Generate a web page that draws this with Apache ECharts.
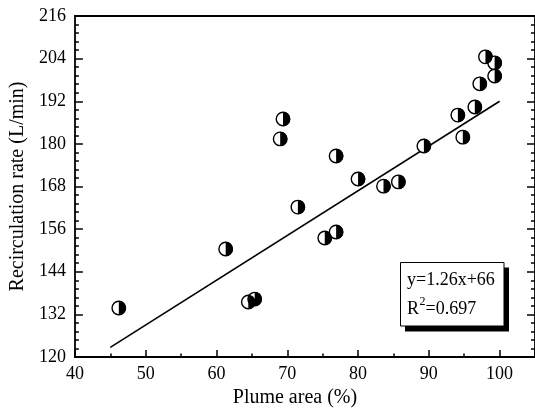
<!DOCTYPE html>
<html>
<head>
<meta charset="utf-8">
<script src="https://cdn.jsdelivr.net/npm/echarts@6/dist/echarts.min.js"></script>
<style>
html,body{margin:0;padding:0;background:#fff;}
#chart{width:535px;height:413px;}
</style>
</head>
<body>
<div id="chart"></div>
<script>
// Data
const plumeArea = [46.2, 61.3, 64.5, 65.4, 69.0, 69.4, 71.5, 75.3, 76.9, 76.9, 80.0, 83.6, 85.7, 89.3, 94.1, 94.8, 96.5, 97.2, 98.0, 99.3, 99.3];
const recircRate = [133.8, 150.4, 135.5, 136.3, 181.4, 187.0, 162.2, 153.5, 155.2, 176.6, 170.1, 168.1, 169.3, 179.4, 188.1, 181.9, 190.4, 196.9, 204.5, 202.8, 199.1];
const fitX = [45, 100];
const fitY = [122.7, 192.0];
const eqText = 'y=1.26x+66';
const r2Value = '=0.697';
const xTicks = {min: 40, max: 105, major: 10, minor: 5};
const yTicks = {min: 120, max: 216, major: 12};

const FONT = 'Liberation Serif';
const points = plumeArea.map((x, i) => [x, recircRate[i]]);
const fitLine = fitX.map((x, i) => [x, fitY[i]]);

const chart = echarts.init(document.getElementById('chart'), null, {renderer: 'canvas'});
const lineCol = '#000';
const axisW = 1.8;

chart.setOption({
  animation: false,
  backgroundColor: '#fff',
  grid: {left: 73, top: 16, width: 464, height: 341, containLabel: false},
  xAxis: [
    {
      type: 'value', min: xTicks.min, max: xTicks.max, interval: xTicks.minor, position: 'bottom',
      axisLine: {show: true, lineStyle: {color: lineCol, width: axisW}},
      axisTick: {show: true, inside: true, length: 3.5, lineStyle: {color: lineCol, width: 1.5}},
      axisLabel: {
        color: '#000', fontFamily: FONT, fontSize: 18, margin: 8, showMaxLabel: false,
        formatter: v => (v % xTicks.major === 0 ? String(v) : '')
      },
      splitLine: {show: false},
      name: 'Plume area (%)', nameLocation: 'middle', nameGap: 28,
      nameTextStyle: {color: '#000', fontFamily: FONT, fontSize: 20, padding: [0, 20, 0, 0]}
    },
    {
      type: 'value', min: xTicks.min, max: xTicks.max, interval: xTicks.major, position: 'bottom',
      axisLine: {show: false},
      axisTick: {show: true, inside: true, length: 7, lineStyle: {color: lineCol, width: 1.5}},
      axisLabel: {show: false}, splitLine: {show: false}
    },
    {
      type: 'value', min: xTicks.min, max: xTicks.max, position: 'top',
      axisLine: {show: true, lineStyle: {color: lineCol, width: axisW}},
      axisTick: {show: false}, axisLabel: {show: false}, splitLine: {show: false}
    }
  ],
  yAxis: [
    {
      type: 'value', min: yTicks.min, max: yTicks.max, interval: yTicks.major, position: 'left',
      axisLine: {show: true, lineStyle: {color: lineCol, width: axisW}},
      axisTick: {show: true, inside: true, length: 8, lineStyle: {color: lineCol, width: 1.5}},
      minorTick: {show: true, splitNumber: 5, length: 4, lineStyle: {color: lineCol, width: 1.5}},
      axisLabel: {color: '#000', fontFamily: FONT, fontSize: 18, margin: 9},
      splitLine: {show: false}, minorSplitLine: {show: false},
      name: 'Recirculation rate (L/min)', nameLocation: 'middle', nameGap: 46,
      nameTextStyle: {color: '#000', fontFamily: FONT, fontSize: 20}
    },
    {
      type: 'value', min: yTicks.min, max: yTicks.max, interval: yTicks.major, position: 'right',
      axisLine: {show: true, lineStyle: {color: lineCol, width: axisW}},
      axisTick: {show: true, inside: true, length: 8, lineStyle: {color: lineCol, width: 1.5}},
      minorTick: {show: true, splitNumber: 5, length: 4, lineStyle: {color: lineCol, width: 1.5}},
      axisLabel: {show: false}, splitLine: {show: false}
    }
  ],
  series: [
    {
      type: 'line', data: fitLine, xAxisIndex: 0, yAxisIndex: 0, symbol: 'none', z: 1,
      lineStyle: {color: '#000', width: 1.6}, silent: true
    },
    {
      type: 'scatter', data: points, xAxisIndex: 0, yAxisIndex: 0, symbol: 'circle', symbolSize: 13.5, z: 2,
      itemStyle: {color: '#fff', borderColor: '#000', borderWidth: 1.4, opacity: 1}
    },
    {
      type: 'scatter', data: points, xAxisIndex: 0, yAxisIndex: 0,
      symbol: 'path://M0,0 A10,10 0 0 1 0,20 Z', symbolSize: [7.2, 14.4], symbolOffset: [3.6, 0], z: 3,
      itemStyle: {color: '#000', opacity: 1}
    }
  ],
  graphic: [
    {type: 'rect', shape: {x: 405, y: 267.5, width: 104, height: 64}, style: {fill: '#000'}, z: 10},
    {type: 'rect', shape: {x: 400.5, y: 262.5, width: 103.5, height: 63.5}, style: {fill: '#fff', stroke: '#000', lineWidth: 1}, z: 11},
    {type: 'text', x: 407, y: 280, style: {text: eqText, fill: '#000', font: '18px "' + FONT + '"', align: 'left', verticalAlign: 'middle'}, z: 12},
    {type: 'text', x: 407, y: 309, style: {text: 'R', fill: '#000', font: '18px "' + FONT + '"', align: 'left', verticalAlign: 'middle'}, z: 12},
    {type: 'text', x: 419.5, y: 302, style: {text: '2', fill: '#000', font: '12px "' + FONT + '"', align: 'left', verticalAlign: 'middle'}, z: 12},
    {type: 'text', x: 425.5, y: 309, style: {text: r2Value, fill: '#000', font: '18px "' + FONT + '"', align: 'left', verticalAlign: 'middle'}, z: 12}
  ]
});
</script>
</body>
</html>
